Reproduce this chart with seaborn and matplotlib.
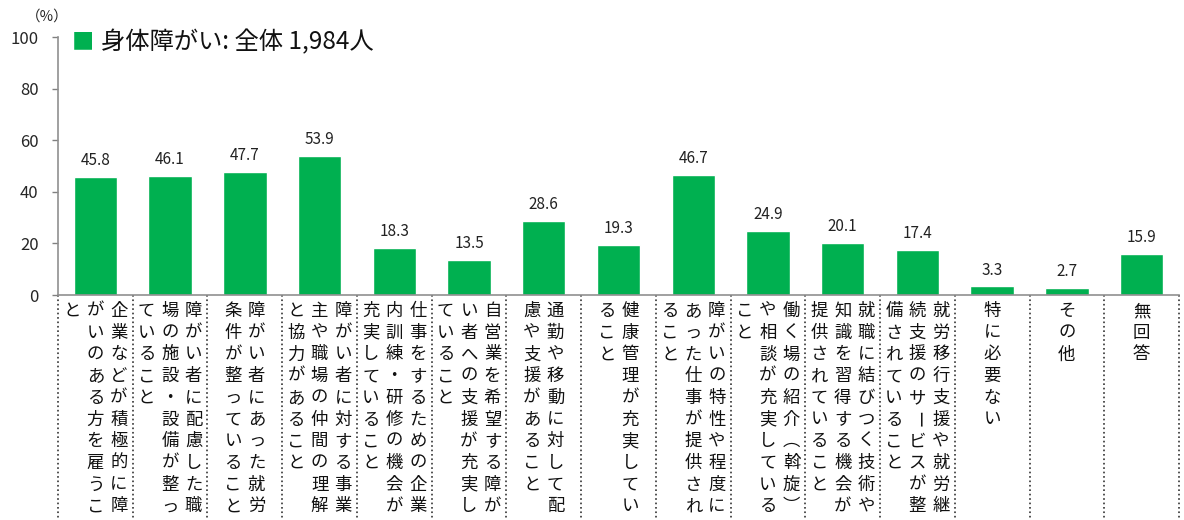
import matplotlib
matplotlib.use('Agg')
import matplotlib.pyplot as plt
import matplotlib.transforms as mtransforms
import seaborn as sns
import pandas as pd

# データ
categories = [
    '企業などが積極的に障がいのある方を雇うこと',
    '障がい者に配慮した職場の施設・設備が整っていること',
    '障がい者にあった就労条件が整っていること',
    '障がい者に対する事業主や職場の仲間の理解と協力があること',
    '仕事をするための企業内訓練・研修の機会が充実していること',
    '自営業を希望する障がい者への支援が充実していること',
    '通勤や移動に対して配慮や支援があること',
    '健康管理が充実していること',
    '障がいの特性や程度にあった仕事が提供されること',
    '働く場の紹介（斡旋）や相談が充実していること',
    '就職に結びつく技術や知識を習得する機会が提供されていること',
    '就労移行支援や就労継続支援のサービスが整備されていること',
    '特に必要ない',
    'その他',
    '無回答',
]
values = [45.8, 46.1, 47.7, 53.9, 18.3, 13.5, 28.6, 19.3, 46.7, 24.9, 20.1, 17.4, 3.3, 2.7, 15.9]
yticks = [0, 20, 40, 60, 80, 100]
legend_label = '身体障がい: 全体 1,984人'

sns.set_theme(style='white')
plt.rcParams['font.family'] = ['Noto Sans CJK JP', 'DejaVu Sans']

W, H = 1184, 520
fig = plt.figure(figsize=(W / 100, H / 100), dpi=100)
ax_l, ax_r, ax_t, ax_b = 58, 1179, 37, 295
ax = fig.add_axes([ax_l / W, 1 - ax_b / H, (ax_r - ax_l) / W, (ax_b - ax_t) / H])

df = pd.DataFrame({'cat': [str(i) for i in range(len(values))], 'val': values})
green = '#00B050'
sns.barplot(data=df, x='cat', y='val', color=green, width=0.58, saturation=1, ax=ax)

ax.set_xlim(-0.5, len(values) - 0.5)
ax.set_ylim(0, 100)
ax.set_yticks(yticks)
ax.tick_params(axis='y', labelsize=12, length=4, width=1, color='#808080', left=True, pad=10)
ax.tick_params(axis='x', bottom=False, labelbottom=False)
ax.set_xlabel('')
ax.set_ylabel('')
for s in ['top', 'right']:
    ax.spines[s].set_visible(False)
for s in ['left', 'bottom']:
    ax.spines[s].set_color('#909090')
    ax.spines[s].set_linewidth(1.2)

# 値ラベル
for i, v in enumerate(values):
    ax.text(i, v + 3, f'{v:.1f}', ha='center', va='bottom', fontsize=11, color='#222222')

# 凡例
ax.text(0.012, 0.98, '■', transform=ax.transAxes, color=green, fontsize=16, va='center', ha='left')
ax.text(0.038, 0.98, legend_label, transform=ax.transAxes, fontsize=17.5, va='center', ha='left', color='#111111')
fig.text(47 / W, 1 - 17 / H, '（%）', fontsize=10.5, ha='center', va='center')

# 縦書きラベル
ax_h = ax_b - ax_t
cat_w = (ax_r - ax_l) / len(values)
col_step = 23.5 / cat_w
row_step = 21.7
row0 = 16
trans = mtransforms.blended_transform_factory(ax.transData, ax.transAxes)
vertical_forms = {'（': '︵', '）': '︶'}
for i, label in enumerate(categories):
    cols = [label[k:k + 10] for k in range(0, len(label), 10)]
    n = len(cols)
    for c, col in enumerate(cols):
        x = i + ((n - 1) / 2 - c) * col_step
        for r, ch in enumerate(col):
            y = -(row0 + r * row_step) / ax_h
            ax.text(x, y, vertical_forms.get(ch, ch), transform=trans, ha='center', va='center',
                    fontsize=12.5, rotation=-90 if ch == 'ー' else 0, clip_on=False, color='#111111')
    # 区切り線
    ax.plot([i - 0.5, i - 0.5], [0, -(H - ax_b) / ax_h], transform=trans, color='#333333',
            linestyle=':', linewidth=1.2, clip_on=False)
ax.plot([len(values) - 0.5] * 2, [0, -(H - ax_b) / ax_h], transform=trans, color='#333333',
        linestyle=':', linewidth=1.2, clip_on=False)

fig.savefig('out.png', dpi=100)
